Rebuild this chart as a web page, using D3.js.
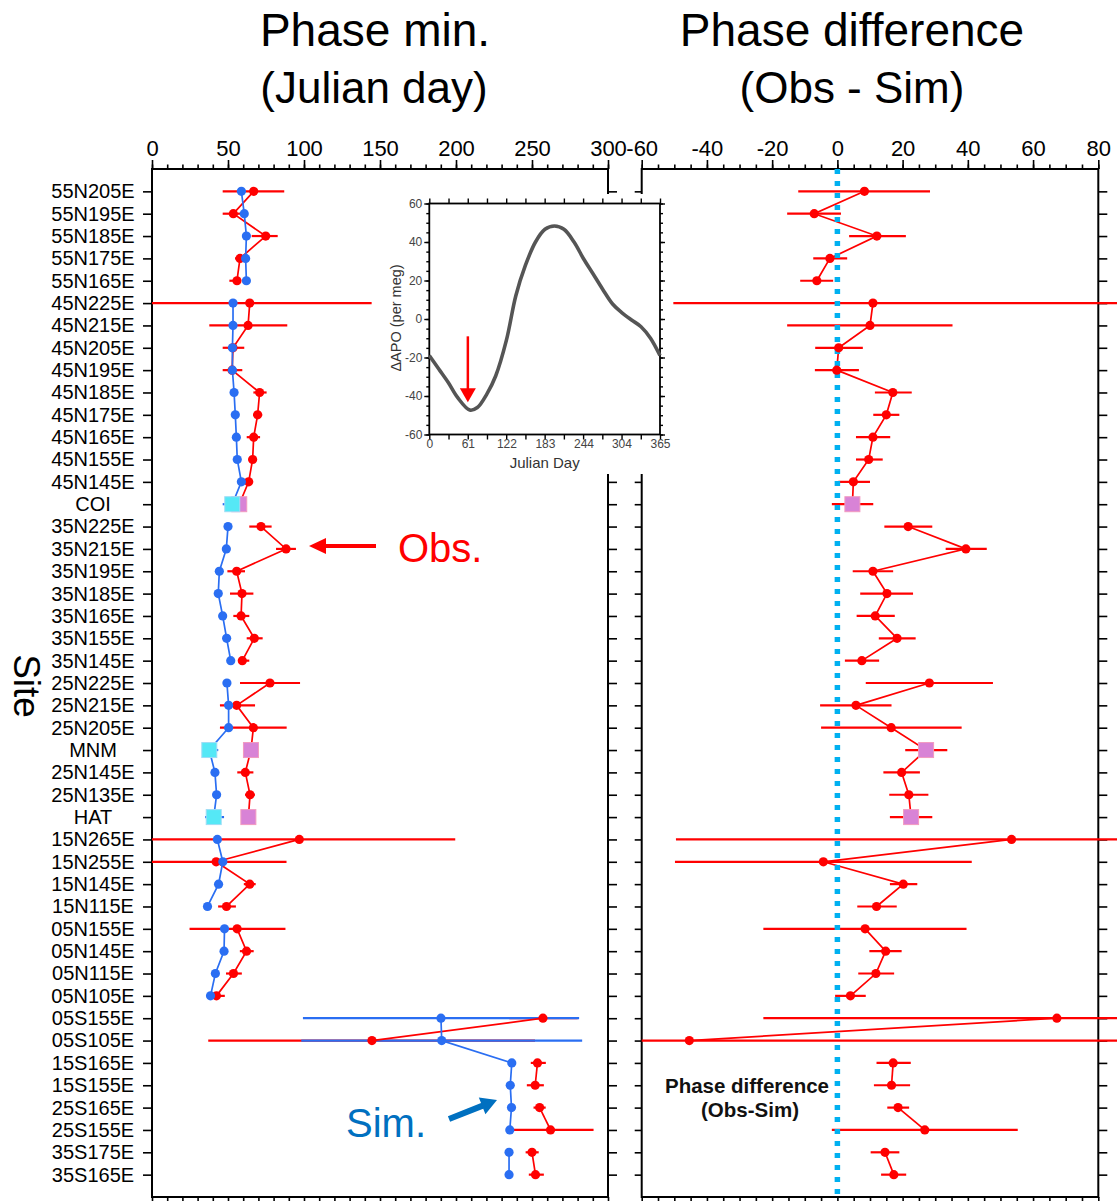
<!DOCTYPE html>
<html><head><meta charset="utf-8">
<script src="https://cdn.jsdelivr.net/npm/d3@7"></script>
<style>
body{margin:0;background:#fff}
svg{display:block}
text{font-family:"Liberation Sans",Arial,sans-serif}
</style>
</head><body>
<svg id="c" width="1117" height="1201"></svg>
<script>
// ---------- DATA ----------
const sites = ["55N205E","55N195E","55N185E","55N175E","55N165E",
  "45N225E","45N215E","45N205E","45N195E","45N185E","45N175E","45N165E","45N155E","45N145E","COI",
  "35N225E","35N215E","35N195E","35N185E","35N165E","35N155E","35N145E",
  "25N225E","25N215E","25N205E","MNM","25N145E","25N135E","HAT",
  "15N265E","15N255E","15N145E","15N115E",
  "05N155E","05N145E","05N115E","05N105E",
  "05S155E","05S105E","15S165E","15S155E","25S165E","25S155E","35S175E","35S165E"];
const stations = ["COI","MNM","HAT"];

const obsPhase = [66.9,53.5,74.8,57.9,55.9, 64.3,63.2,53.3,52.7,70.8,69.5,66.9,66.2,63.6,57.4,
  71.7,88.2,55.7,59.2,58.6,67.3,59.4, 77.6,55.7,66.7,65.1,61.4,64.5,63.4,
  96.9,42.2,64.3,49.0, 56.0,62.2,53.6,42.4, 257.2,144.7,253.6,252.1,255.0,262.2,250.0,252.3];
const obsLo = [46.5,46.5,65.6,54.6,50.9, -16,37.7,46.5,46.5,66.7,66.5,62.3,63.5,60.5,null,
  64.0,81.6,49.6,51.3,53.5,62.3,56.8, 57.9,44.7,44.7,null,56.1,61.2,null,
  -6,-4,60.4,43.5, 24.7,57.8,48.7,39.6, 235,37,249.2,246.6,251,235,245.8,247.9];
const obsHi = [87.0,61.0,82.7,63.4,57.9, 144.5,89.0,60.7,59.4,75.4,72.5,71.1,69.0,66.5,null,
  78.7,94.7,61.2,66.7,64.0,72.8,64.0, 97.4,67.8,88.6,null,66.7,67.7,null,
  199.5,88.5,68.2,55.2, 87.8,66.9,59.1,47.9, 280,252,259.1,257.8,259,290.5,254.4,257.8];

const simPhase = [58.8,60.7,62.1,61.6,62.1, 53.3,53.3,52.9,52.9,54.0,54.8,55.5,56.1,58.8,52.8,
  50.0,48.9,44.3,43.6,46.5,49.1,51.8, 49.3,50.4,50.4,37.7,41.4,42.5,40.6,
  43.0,46.6,43.8,36.5, 47.7,47.4,41.7,38.5, 190.1,190.6,236.7,235.7,236.5,235.4,234.9,234.9];
const simLo = [null,null,null,null,null, null,null,null,null,52.0,53.0,53.5,54.0,56.5,46.5,
  null,null,null,null,44.0,null,null, null,null,null,33.8,39.5,40.0,34.9,
  null,null,null,null, null,null,null,null, 99.3,98.2,null,null,null,null,null,null];
const simHi = [null,null,null,null,null, null,null,null,null,56.0,57.0,57.5,58.0,61.0,57.0,
  null,null,null,null,49.0,null,null, null,null,null,43.6,43.5,45.0,47.4,
  null,null,null,null, null,null,null,null, 281,283,null,null,null,null,null,null];

const diff = [8.3,-7.1,12.1,-2.3,-6.3, 10.9,10.0,0.4,-0.2,17.0,15.0,10.9,9.6,4.9,4.6,
  21.7,39.4,10.9,15.2,11.6,18.3,7.5, 28.2,5.7,16.5,27.2,19.7,21.9,22.6,
  53.4,-4.3,20.2,12.0, 8.5,14.8,11.8,4.0, 67.3,-45.4,17.1,16.6,18.6,26.8,14.6,17.3];
const diffLo = [-12.0,-15.4,3.6,-7.4,-11.4, -50.3,-15.4,-6.8,-6.9,11.5,11.0,5.7,5.7,0.3,-1.7,
  14.4,33.2,4.7,7.0,5.9,12.7,2.3, 8.7,-5.3,-5.0,20.8,14.1,15.9,16.1,
  -49.5,-49.8,16.1,6.1, -22.7,9.8,6.4,-0.7, -22.7,-65,12.0,11.2,15.3,-1.7,10.2,13.4];
const diffHi = [28.4,1.1,21.0,3.0,-1.3, 95,35.3,7.8,6.6,22.8,19.0,16.2,13.9,10.0,11.0,
  29.1,45.8,17.1,23.2,17.6,24.0,12.8, 47.7,16.6,38.1,33.7,25.3,27.9,29.1,
  157,41.2,24.5,18.2, 39.6,19.7,17.4,8.7, 157,95,22.5,22.3,22.0,55.3,19.0,21.1];

const obsGroup = [1,1,1,1,1, 2,2,2,2,2,2,2,2,2,2, 3,3,3,3,3,3,3, 4,4,4,4,4,4,4, 5,5,5,5, 6,6,6,6, 7,7,8,8,9,9,10,10];
const simGroup = [1,1,1,1,1, 2,2,2,2,2,2,2,2,2,2, 3,3,3,3,3,3,3, 4,4,4,4,4,4,4, 5,5,5,5, 6,6,6,6, 7,7,7,7,7,7,8,8];

const leftTicks = [0,50,100,150,200,250,300];
const rightTicks = [-60,-40,-20,0,20,40,60,80];

// inset curve
const insetDay = [0,15,30,45,64,76,91,105,122,137,152,168,183,198,213,229,244,259,274,290,304,320,335,350,365];
const insetApo = [-19,-26,-33,-40.9,-47.3,-46,-39,-29.6,-11,12.2,27.8,40,46.6,48.3,46.6,40,31.3,23.5,15.6,7.8,3.5,-0.5,-4,-10,-19];
const insetXTicks = [0,61,122,183,244,304,365];
const insetYTicks = [-60,-40,-20,0,20,40,60];

// ---------- COLORS ----------
const RED = "#ff0000", BLUE = "#2a6ef2";
const CYAN = "#55e8f6", MAG = "#d883d6";

// ---------- SCALES ----------
const svg = d3.select("#c");
const W = 1117, H = 1201;
const yTop = 169, yBot = 1197;
const y = d3.scalePoint().domain(sites).range([yTop, yBot]).padding(1);
const xL = d3.scaleLinear().domain([0, 300]).range([152, 608]);
const xR = d3.scaleLinear().domain([-60, 80]).range([641.7, 1098.3]);

const rows = sites.map((s, i) => ({
  site: s, i, station: stations.includes(s),
  obs: obsPhase[i], oLo: obsLo[i], oHi: obsHi[i],
  sim: simPhase[i], sLo: simLo[i], sHi: simHi[i],
  d: diff[i], dLo: diffLo[i], dHi: diffHi[i],
  og: obsGroup[i], sg: simGroup[i]
}));

function styleAxis(g, fs) {
  g.select(".domain").remove();
  g.selectAll("line").attr("stroke", "#000").attr("stroke-width", 1.6);
  g.selectAll("text").attr("fill", "#000").style("font-size", fs + "px")
    .style("font-family", '"Liberation Sans",Arial,sans-serif');
}

// ---------- FRAMES & AXES ----------
function panelAxes(x, minorStep, labelled) {
  const [d0, d1] = x.domain();
  const x0 = x.range()[0], x1 = x.range()[1];
  svg.append("g").attr("transform", `translate(0,${yTop})`)
    .call(d3.axisTop(x).tickValues(d3.range(d0, d1 + 0.001, minorStep)).tickSize(4.5).tickFormat(""))
    .call(g => styleAxis(g, 22));
  svg.append("g").attr("class", "toplab").attr("transform", `translate(0,${yTop})`)
    .call(d3.axisTop(x).tickValues(labelled).tickSize(9).tickPadding(4).tickFormat(d => d))
    .call(g => styleAxis(g, 22));
  svg.append("g").attr("transform", `translate(0,${yBot})`)
    .call(d3.axisBottom(x).tickValues(d3.range(d0, d1 + 0.001, minorStep)).tickSize(6).tickFormat(""))
    .call(g => styleAxis(g, 22));
  svg.append("rect").attr("x", x0).attr("y", yTop).attr("width", x1 - x0).attr("height", yBot - yTop)
    .attr("fill", "none").attr("stroke", "#000").attr("stroke-width", 2);
}
panelAxes(xL, 10, leftTicks);
panelAxes(xR, 5, rightTicks);

// y axes
svg.append("g").attr("transform", `translate(${xL.range()[0]},0)`)
  .call(d3.axisLeft(y).tickSize(9))
  .call(g => styleAxis(g, 20))
  .call(g => g.selectAll("text").attr("x", 93 - 152).attr("text-anchor", "middle"));
svg.append("g").attr("transform", `translate(${xL.range()[1]},0)`)
  .call(d3.axisRight(y).tickSize(9).tickFormat(""))
  .call(g => styleAxis(g, 20));
svg.append("g").attr("transform", `translate(${xR.range()[0]},0)`)
  .call(d3.axisLeft(y).tickSize(7).tickFormat(""))
  .call(g => styleAxis(g, 20));
svg.append("g").attr("transform", `translate(${xR.range()[1]},0)`)
  .call(d3.axisRight(y).tickSize(9).tickFormat(""))
  .call(g => styleAxis(g, 20));

// inset white background (hides inner frame lines)
svg.append("rect").attr("x", 385).attr("y", 194).attr("width", 285).attr("height", 280).attr("fill", "#fff");

// ---------- LEFT PANEL DATA ----------
const lo = (x, v) => Math.max(v, x.domain()[0]);
const L = svg.append("g");
L.selectAll(".oe").data(rows.filter(r => r.oLo != null)).join("line")
  .attr("x1", r => xL(lo(xL, r.oLo))).attr("x2", r => xL(r.oHi))
  .attr("y1", r => y(r.site)).attr("y2", r => y(r.site))
  .attr("stroke", RED).attr("stroke-width", 2.2);
L.selectAll(".se").data(rows.filter(r => r.sLo != null)).join("line")
  .attr("x1", r => xL(r.sLo)).attr("x2", r => xL(r.sHi))
  .attr("y1", r => y(r.site)).attr("y2", r => y(r.site))
  .attr("stroke", BLUE).attr("stroke-width", 2.2);
const obsLine = d3.line().x(r => xL(r.obs)).y(r => y(r.site));
const simLine = d3.line().x(r => xL(r.sim)).y(r => y(r.site));
d3.groups(rows, r => r.og).forEach(([k, g]) => {
  L.append("path").attr("d", obsLine(g)).attr("fill", "none").attr("stroke", RED).attr("stroke-width", 1.7);
});
d3.groups(rows, r => r.sg).forEach(([k, g]) => {
  L.append("path").attr("d", simLine(g)).attr("fill", "none").attr("stroke", BLUE).attr("stroke-width", 1.7);
});
L.selectAll(".od").data(rows.filter(r => !r.station)).join("circle")
  .attr("cx", r => xL(r.obs)).attr("cy", r => y(r.site)).attr("r", 4.6).attr("fill", RED);
L.selectAll(".os").data(rows.filter(r => r.station)).join("rect")
  .attr("x", r => xL(r.obs) - 7.5).attr("y", r => y(r.site) - 7.5).attr("width", 15).attr("height", 15)
  .attr("fill", MAG).attr("stroke", "#f29ac0").attr("stroke-width", 1);
L.selectAll(".sd").data(rows.filter(r => !r.station)).join("circle")
  .attr("cx", r => xL(r.sim)).attr("cy", r => y(r.site)).attr("r", 4.6).attr("fill", BLUE);
L.selectAll(".ss").data(rows.filter(r => r.station)).join("rect")
  .attr("x", r => xL(r.sim) - 7.5).attr("y", r => y(r.site) - 7.5).attr("width", 15).attr("height", 15)
  .attr("fill", CYAN).attr("stroke", "#9fdcf5").attr("stroke-width", 1);

// ---------- RIGHT PANEL DATA ----------
const R = svg.append("g");
R.selectAll(".de").data(rows).join("line")
  .attr("x1", r => xR(lo(xR, r.dLo))).attr("x2", r => xR(r.dHi))
  .attr("y1", r => y(r.site)).attr("y2", r => y(r.site))
  .attr("stroke", RED).attr("stroke-width", 2.2);
const dLine = d3.line().x(r => xR(r.d)).y(r => y(r.site));
d3.groups(rows, r => r.og).forEach(([k, g]) => {
  R.append("path").attr("d", dLine(g)).attr("fill", "none").attr("stroke", RED).attr("stroke-width", 1.7);
});
R.append("line").attr("x1", xR(0)).attr("x2", xR(0)).attr("y1", yTop).attr("y2", yBot)
  .attr("stroke", "#00b0f0").attr("stroke-width", 5.5).attr("stroke-dasharray", "5,7");
R.selectAll(".dd").data(rows.filter(r => !r.station)).join("circle")
  .attr("cx", r => xR(r.d)).attr("cy", r => y(r.site)).attr("r", 4.6).attr("fill", RED);
R.selectAll(".ds").data(rows.filter(r => r.station)).join("rect")
  .attr("x", r => xR(r.d) - 7.5).attr("y", r => y(r.site) - 7.5).attr("width", 15).attr("height", 15)
  .attr("fill", MAG).attr("stroke", "#f29ac0").attr("stroke-width", 1);

// ---------- INSET ----------
const ix = d3.scaleLinear().domain([0, 365]).range([429.3, 660]);
const iy = d3.scaleLinear().domain([-60, 60]).range([434.5, 203.5]);
const I = svg.append("g");
function insetStyle(g) {
  g.select(".domain").remove();
  g.selectAll("line").attr("stroke", "#000").attr("stroke-width", 1.4);
  g.selectAll("text").attr("fill", "#444").style("font-size", "12px");
}
const xt = d3.range(0, 13).map(k => k * 365 / 12);
const yt = d3.range(-60, 61, 5);
I.append("g").attr("transform", `translate(0,${iy.range()[0]})`)
  .call(d3.axisBottom(ix).tickValues(xt).tickSize(5).tickFormat("")).call(insetStyle);
I.append("g").attr("transform", `translate(0,${iy.range()[0]})`)
  .call(d3.axisBottom(ix).tickValues(insetXTicks).tickSize(0).tickPadding(5).tickFormat(d => d)).call(insetStyle);
I.append("g").attr("transform", `translate(0,${iy.range()[1]})`)
  .call(d3.axisTop(ix).tickValues(xt).tickSize(5).tickFormat("")).call(insetStyle);
I.append("g").attr("transform", `translate(${ix.range()[0]},0)`)
  .call(d3.axisLeft(iy).tickValues(yt).tickSize(3).tickFormat("")).call(insetStyle);
I.append("g").attr("transform", `translate(${ix.range()[0]},0)`)
  .call(d3.axisLeft(iy).tickValues(insetYTicks).tickSize(5).tickPadding(2).tickFormat(d => d)).call(insetStyle);
I.append("g").attr("transform", `translate(${ix.range()[1]},0)`)
  .call(d3.axisRight(iy).tickValues(yt).tickSize(3).tickFormat("")).call(insetStyle);
I.append("g").attr("transform", `translate(${ix.range()[1]},0)`)
  .call(d3.axisRight(iy).tickValues(insetYTicks).tickSize(5).tickFormat("")).call(insetStyle);
I.append("rect").attr("x", ix.range()[0]).attr("y", iy.range()[1])
  .attr("width", ix.range()[1] - ix.range()[0]).attr("height", iy.range()[0] - iy.range()[1])
  .attr("fill", "none").attr("stroke", "#000").attr("stroke-width", 1.8);
const curve = d3.line().x((d, k) => ix(insetDay[k])).y(d => iy(d)).curve(d3.curveCatmullRom.alpha(0.5));
I.append("path").attr("d", curve(insetApo)).attr("fill", "none").attr("stroke", "#555").attr("stroke-width", 3.6);
{
  const ax = ix(61), ay0 = iy(-9), ay1 = iy(-43.3);
  I.append("line").attr("x1", ax).attr("x2", ax).attr("y1", ay0).attr("y2", ay1 - 12).attr("stroke", RED).attr("stroke-width", 2.5);
  I.append("path").attr("d", `M${ax - 8},${ay1 - 14}L${ax + 8},${ay1 - 14}L${ax},${ay1}Z`).attr("fill", RED);
}
I.append("text").attr("x", ix(182.5)).attr("y", 468).attr("text-anchor", "middle")
  .style("font-size", "15px").attr("fill", "#333").text("Julian Day");
I.append("text").attr("transform", `translate(401,${iy(0) - 1}) rotate(-90)`).attr("text-anchor", "middle")
  .style("font-size", "14.5px").attr("fill", "#333").text("ΔAPO (per meg)");

// ---------- TITLES & ANNOTATIONS ----------
const T = svg.append("g");
function title(x, yy, s, txt) {
  T.append("text").attr("x", x).attr("y", yy).attr("text-anchor", "middle").style("font-size", s + "px").attr("fill", "#000").text(txt);
}
title(375, 46, 46, "Phase min.");
title(374, 103, 44, "(Julian day)");
title(852, 46, 46, "Phase difference");
title(852, 103, 44, "(Obs - Sim)");
T.append("text").attr("transform", "translate(14,686) rotate(90)").attr("text-anchor", "middle")
  .style("font-size", "37px").attr("fill", "#000").text("Site");

T.append("text").attr("x", 398).attr("y", 562).style("font-size", "40px").attr("fill", RED).text("Obs.");
T.append("path").attr("d", "M376,544L326,544L326,538L309,546L326,554L326,548L376,548Z").attr("fill", RED);
T.append("text").attr("x", 346).attr("y", 1137).style("font-size", "40px").attr("fill", "#0070c0").text("Sim.");
{
  const x0 = 449, y0 = 1119, x1 = 497, y1 = 1100;
  const ang = Math.atan2(y1 - y0, x1 - x0), len = Math.hypot(x1 - x0, y1 - y0);
  T.append("path").attr("transform", `translate(${x0},${y0}) rotate(${ang * 180 / Math.PI})`)
    .attr("d", `M0,-3L${len - 16},-3L${len - 16},-9L${len},0L${len - 16},9L${len - 16},3L0,3Z`).attr("fill", "#0070c0");
}
T.append("text").attr("x", 747).attr("y", 1093).attr("text-anchor", "middle").style("font-size", "20.5px")
  .style("font-weight", "bold").attr("fill", "#111").text("Phase difference");
T.append("text").attr("x", 750).attr("y", 1117).attr("text-anchor", "middle").style("font-size", "20.5px")
  .style("font-weight", "bold").attr("fill", "#111").text("(Obs-Sim)");
</script>
</body></html>
